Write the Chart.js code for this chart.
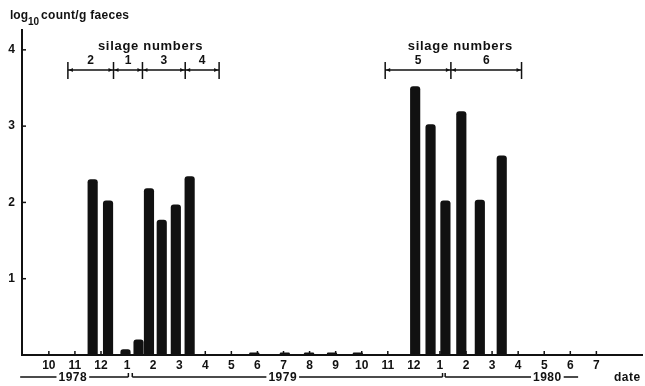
<!DOCTYPE html>
<html>
<head>
<meta charset="utf-8">
<script src="https://cdn.jsdelivr.net/npm/chart.js@4"></script>
<style>
  html, body { margin: 0; padding: 0; background: #fff; }
  #wrap { width: 645px; height: 386px; }
</style>
</head>
<body>
<div id="wrap"><canvas id="chart"></canvas></div>
<script>
// sample dates in months counted from Oct 1978 (0 = Oct 78)
const sampleMonths = [1.68, 2.27, 2.94, 3.44, 3.84, 4.33, 4.87, 5.40, 7.88, 9.05, 9.98, 10.86, 11.85, 14.05, 14.64, 15.21, 15.82, 16.53, 17.37];
const logCounts = [2.30, 2.02, 0.07, 0.20, 2.18, 1.77, 1.97, 2.34, 0.03, 0.03, 0.03, 0.03, 0.03, 3.52, 3.02, 2.02, 3.19, 2.03, 2.61];
const monthLabels = ['10','11','12','1','2','3','4','5','6','7','8','9','10','11','12','1','2','3','4','5','6','7'];
const yTicks = [1, 2, 3, 4];
const years = ['1978', '1979', '1980'];
const yearFrom = [-1.1, 3.2, 15.2];
const yearTo = [3.05, 15.1, 20.3];
const yearLabelAt = [0.92, 8.97, 19.12];
const silageNumbers = [['2', '1', '3', '4'], ['5', '6']];
const silageBounds = [[0.73, 2.48, 3.59, 5.23, 6.53], [12.9, 15.42, 18.13]];

const FONT = "'Liberation Sans', Arial, sans-serif";
const INK = '#111';

function arrow(ctx, x, y, dir) {
  ctx.beginPath();
  ctx.moveTo(x, y);
  ctx.lineTo(x - 4 * dir, y - 2);
  ctx.lineTo(x - 4 * dir, y + 2);
  ctx.closePath();
  ctx.fill();
}

const extras = {
  id: 'extras',
  afterDraw(chart) {
    const ctx = chart.ctx;
    const xs = chart.scales.x, ys = chart.scales.y;
    const base = ys.getPixelForValue(0);
    const left = xs.left;
    ctx.save();
    ctx.strokeStyle = INK;
    ctx.fillStyle = INK;
    ctx.lineWidth = 1.5;

    // inward tick marks
    monthLabels.forEach((m, i) => {
      const x = xs.getPixelForValue(i);
      ctx.beginPath(); ctx.moveTo(x, base); ctx.lineTo(x, base - 4); ctx.stroke();
    });
    yTicks.forEach(v => {
      const y = ys.getPixelForValue(v);
      ctx.beginPath(); ctx.moveTo(left, y); ctx.lineTo(left + 4, y); ctx.stroke();
    });

    // year brackets
    ctx.font = 'bold 12px ' + FONT;
    ctx.letterSpacing = '0.5px';
    ctx.textAlign = 'center';
    ctx.textBaseline = 'middle';
    const yy = 377;
    years.forEach((yr, i) => {
      const a = xs.getPixelForValue(yearFrom[i]);
      const b = xs.getPixelForValue(yearTo[i]);
      const c = xs.getPixelForValue(yearLabelAt[i]);
      const w = ctx.measureText(yr).width / 2 + 2;
      ctx.beginPath();
      ctx.moveTo(a, yy); ctx.lineTo(c - w, yy);
      ctx.moveTo(c + w, yy); ctx.lineTo(b, yy);
      ctx.stroke();
      if (i > 0) { ctx.beginPath(); ctx.moveTo(a, yy); ctx.lineTo(a, yy - 4); ctx.stroke(); }
      if (i < years.length - 1) { ctx.beginPath(); ctx.moveTo(b, yy); ctx.lineTo(b, yy - 4); ctx.stroke(); }
      ctx.fillText(yr, c, yy + 1);
    });
    ctx.textAlign = 'left';
    ctx.fillText('date', 614, yy + 1);

    // silage number brackets
    silageBounds.forEach((bounds, g) => {
      const px = bounds.map(v => xs.getPixelForValue(v));
      const ly = 70;
      ctx.lineWidth = 1.5;
      ctx.beginPath();
      ctx.moveTo(px[0], ly); ctx.lineTo(px[px.length - 1], ly);
      px.forEach(x => { ctx.moveTo(x, ly - 8); ctx.lineTo(x, ly + 9); });
      ctx.stroke();
      for (let i = 0; i < px.length - 1; i++) {
        arrow(ctx, px[i] + 1, ly, -1);
        arrow(ctx, px[i + 1] - 1, ly, 1);
      }
      ctx.font = 'bold 12px ' + FONT;
      ctx.letterSpacing = '0px';
      ctx.textAlign = 'center';
      ctx.textBaseline = 'middle';
      silageNumbers[g].forEach((n, i) => {
        ctx.fillText(n, (px[i] + px[i + 1]) / 2, ly - 9);
      });
      ctx.font = 'bold 13px ' + FONT;
      ctx.letterSpacing = '0.7px';
      ctx.fillText('silage numbers', (px[0] + px[px.length - 1]) / 2 + 7, 46);
      ctx.letterSpacing = '0px';
    });

    // y axis title
    ctx.textAlign = 'left';
    ctx.textBaseline = 'alphabetic';
    ctx.font = 'bold 12px ' + FONT;
    ctx.fillText('log', 10, 19);
    let x = 10 + ctx.measureText('log').width;
    ctx.font = 'bold 10px ' + FONT;
    ctx.fillText('10', x, 25);
    x += ctx.measureText('10').width + 2;
    ctx.font = 'bold 12px ' + FONT;
    ctx.letterSpacing = '0.3px';
    ctx.fillText('count/g faeces', x, 19);
    ctx.restore();
  }
};

new Chart(document.getElementById('chart'), {
  type: 'bar',
  data: {
    datasets: [{
      data: sampleMonths.map((m, i) => ({ x: m, y: logCounts[i] })),
      backgroundColor: INK,
      barThickness: 9.5,
      borderRadius: { topLeft: 3, topRight: 3 },
      borderSkipped: 'bottom'
    }]
  },
  options: {
    responsive: true,
    maintainAspectRatio: false,
    animation: false,
    layout: { padding: { top: 30, left: 0, right: 0, bottom: 0 } },
    plugins: { legend: { display: false }, tooltip: { enabled: false } },
    scales: {
      x: {
        type: 'linear',
        offset: false,
        min: -1.03,
        max: 22.75,
        grid: { display: false, drawTicks: false },
        border: { display: true, color: INK, width: 2 },
        ticks: {
          stepSize: 1,
          autoSkip: false,
          maxRotation: 0,
          padding: 3,
          color: INK,
          font: { family: FONT, size: 12, weight: 'bold' },
          callback: v => Number.isInteger(v) && monthLabels[v] !== undefined ? monthLabels[v] : ''
        },
        afterFit: s => { s.height = 31; }
      },
      y: {
        min: 0,
        max: 4.26,
        grid: { display: false, drawTicks: false },
        border: { display: true, color: INK, width: 2 },
        ticks: {
          stepSize: 1,
          padding: 7,
          color: INK,
          font: { family: FONT, size: 12, weight: 'bold' },
          callback: v => yTicks.includes(v) ? String(v) : ''
        },
        afterFit: s => { s.width = 22; }
      }
    }
  },
  plugins: [extras]
});
</script>
</body>
</html>
